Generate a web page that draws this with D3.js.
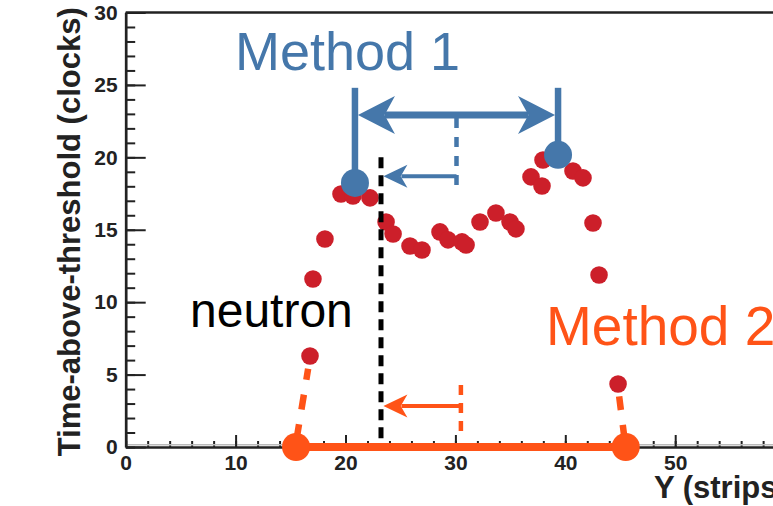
<!DOCTYPE html>
<html lang="en">
<head>
<meta charset="UTF-8">
<title>Time-above-threshold vs Y</title>
<script src="https://cdn.jsdelivr.net/npm/d3@7"></script>
<style>
body { margin: 0; background: #fff; }
svg { display: block; font-family: 'Liberation Sans', Arial, sans-serif; }
.axis text { font-weight: bold; font-size: 21px; fill: #222; }
.axis path, .axis line { stroke: #222; }
</style>
</head>
<body>
<div id="chart"></div>
<script>
const width = 773, height = 506;

// Strip hits: position (strips) and time-above-threshold (clocks)
const stripY = [16.77, 17.04, 18.13, 19.59, 20.68, 22.23, 23.69, 24.33, 25.87, 26.96, 28.6, 29.33, 30.6, 30.97,
                32.24, 33.69, 34.97, 35.51, 36.88, 37.88, 37.97, 40.7, 41.61, 42.52, 43.07, 44.8];
const totValues = [6.28, 11.6, 14.36, 17.47, 17.33, 17.2, 15.54, 14.71, 13.88, 13.6, 14.85, 14.3, 14.16, 13.95,
                   15.54, 16.16, 15.54, 15.06, 18.65, 18.02, 19.82, 19.06, 18.58, 15.47, 11.88, 4.35];

// Axis ticks
const xMajorTicks = [0, 10, 20, 30, 40, 50, 60];
const yMajorTicks = [0, 5, 10, 15, 20, 25, 30];

// Method 1: edges at the TOT maxima
const m1Edges = [20.86, 39.34];
const m1EdgeTot = [18.23, 20.17];
const m1Top = 24.8, m1ArrowTot = 22.93, m1DashBottom = 17.9, m1SmallArrowTot = 18.7;
// Method 2: edges where TOT falls to zero
const m2Edges = [15.5, 45.5];
const m2DashTop = 4.28, m2ArrowTot = 2.83;
const m2Links = [[15.55, 0.55, 16.6, 5.4], [45.4, 0.5, 44.9, 3.5]];
// neutron position
const neutronY = 23.23, neutronTop = 20.0, neutronBottom = 0.3;
const arrowTip = 23.45;

const red = "#cc1f2a", blue = "#4577aa", orange = "#ff5317";

const svg = d3.select("#chart").append("svg")
    .attr("width", width).attr("height", height);

const x = d3.scaleLinear().domain([0, 60]).range([125.7, 785.1]);
const y = d3.scaleLinear().domain([0, 30]).range([447, 12.5]);

// minor ticks
svg.append("g").attr("class", "axis")
    .attr("transform", `translate(0,${y(0)})`)
    .call(d3.axisBottom(x).tickValues(d3.range(0, 62, 2)).tickSize(-6).tickFormat(""))
    .call(g => g.select(".domain").remove())
    .selectAll("line").attr("stroke-width", 2);
svg.append("g").attr("class", "axis")
    .attr("transform", `translate(${x(0)},0)`)
    .call(d3.axisLeft(y).tickValues(d3.range(0, 31, 1)).tickSize(-9.5).tickFormat(""))
    .call(g => g.select(".domain").remove())
    .selectAll("line").attr("stroke-width", 2);

// faint shadow above the x axis
svg.append("line")
    .attr("x1", x(0)).attr("x2", width)
    .attr("y1", y(0) - 2.3).attr("y2", y(0) - 2.3)
    .attr("stroke", "#bbb").attr("stroke-width", 1.5);

// major ticks + labels
const xAxis = svg.append("g").attr("class", "axis")
    .attr("transform", `translate(0,${y(0)})`)
    .call(d3.axisBottom(x).tickValues(xMajorTicks).tickSize(-12).tickSizeOuter(0).tickPadding(8));
xAxis.selectAll("line").attr("stroke-width", 2);
xAxis.select(".domain").attr("stroke-width", 2.7);

const yAxis = svg.append("g").attr("class", "axis")
    .attr("transform", `translate(${x(0)},0)`)
    .call(d3.axisLeft(y).tickValues(yMajorTicks).tickSize(-20).tickSizeOuter(0).tickPadding(8));
yAxis.selectAll("line").attr("stroke-width", 2);
yAxis.select(".domain").attr("stroke-width", 2.7);

// top frame
svg.append("line")
    .attr("x1", x(0)).attr("x2", width)
    .attr("y1", y(30)).attr("y2", y(30))
    .attr("stroke", "#222").attr("stroke-width", 2.7);

// axis titles
svg.append("text")
    .attr("transform", `translate(80,${(y(0) + y(30)) / 2 + 2}) rotate(-90)`)
    .attr("text-anchor", "middle")
    .attr("font-weight", "bold").attr("font-size", 31).attr("fill", "#222")
    .text("Time-above-threshold (clocks)");
svg.append("text")
    .attr("x", 654).attr("y", 498)
    .attr("font-weight", "bold").attr("font-size", 31).attr("fill", "#222")
    .text("Y (strips)");

// data points
svg.append("g").selectAll("circle")
    .data(stripY.map((s, i) => [s, totValues[i]]))
    .join("circle")
    .attr("cx", d => x(d[0])).attr("cy", d => y(d[1]))
    .attr("r", 8.8).attr("fill", red);

// arrow helpers
function arrowHead(g, tx, ty, dir, len, half, color) {
    const p = [[0, 0], [len, -half], [len * 0.72, 0], [len, half]]
        .map(([a, b]) => [tx + dir * a, ty + b]);
    g.append("path").attr("d", "M" + p.join("L") + "Z").attr("fill", color);
}
function dashed(g, x1, y1, x2, y2, color, w, dash) {
    g.append("line")
        .attr("x1", x1).attr("y1", y1).attr("x2", x2).attr("y2", y2)
        .attr("stroke", color).attr("stroke-width", w).attr("stroke-dasharray", dash);
}

const ann = svg.append("g");

// neutron line
dashed(ann, x(neutronY), y(neutronTop), x(neutronY), y(neutronBottom), "#000", 5, "11 7");
ann.append("text").attr("x", 190).attr("y", 327)
    .attr("font-size", 48).attr("fill", "#000").text("neutron");

// Method 1
m1Edges.forEach((e, i) => {
    ann.append("line")
        .attr("x1", x(e)).attr("x2", x(e))
        .attr("y1", y(m1Top)).attr("y2", y(m1EdgeTot[i]))
        .attr("stroke", blue).attr("stroke-width", 6.5);
});
const m1Mid = (m1Edges[0] + m1Edges[1]) / 2;
ann.append("line")
    .attr("x1", x(m1Edges[0]) + 30).attr("x2", x(m1Edges[1]) - 30)
    .attr("y1", y(m1ArrowTot)).attr("y2", y(m1ArrowTot))
    .attr("stroke", blue).attr("stroke-width", 7);
arrowHead(ann, x(m1Edges[0]) + 3, y(m1ArrowTot), 1, 37, 19, blue);
arrowHead(ann, x(m1Edges[1]) - 3, y(m1ArrowTot), -1, 37, 19, blue);
dashed(ann, x(m1Mid), y(m1ArrowTot) + 3, x(m1Mid), y(m1DashBottom), blue, 4.5, "10 9");
ann.append("line")
    .attr("x1", x(m1Mid)).attr("x2", x(arrowTip) + 18)
    .attr("y1", y(m1SmallArrowTot)).attr("y2", y(m1SmallArrowTot))
    .attr("stroke", blue).attr("stroke-width", 4);
arrowHead(ann, x(arrowTip), y(m1SmallArrowTot), 1, 24, 11.5, blue);
ann.selectAll(null).data(m1Edges).join("circle")
    .attr("cx", d => x(d)).attr("cy", (d, i) => y(m1EdgeTot[i]))
    .attr("r", 14).attr("fill", blue);
ann.append("text").attr("x", 235).attr("y", 70)
    .attr("font-size", 54).attr("fill", blue).text("Method 1");

// Method 2
m2Links.forEach(l => dashed(ann, x(l[0]), y(l[1]), x(l[2]), y(l[3]), orange, 6.5, "15 15"));
ann.append("line")
    .attr("x1", x(m2Edges[0])).attr("x2", x(m2Edges[1]))
    .attr("y1", y(0)).attr("y2", y(0))
    .attr("stroke", orange).attr("stroke-width", 8);
ann.selectAll(null).data(m2Edges).join("circle")
    .attr("cx", d => x(d)).attr("cy", y(0))
    .attr("r", 14).attr("fill", orange);
const m2Mid = (m2Edges[0] + m2Edges[1]) / 2;
dashed(ann, x(m2Mid), y(m2DashTop), x(m2Mid), y(0) - 10, orange, 4.5, "10 8");
ann.append("line")
    .attr("x1", x(m2Mid)).attr("x2", x(arrowTip) + 18)
    .attr("y1", y(m2ArrowTot)).attr("y2", y(m2ArrowTot))
    .attr("stroke", orange).attr("stroke-width", 4);
arrowHead(ann, x(arrowTip), y(m2ArrowTot), 1, 24, 11.5, orange);
ann.append("text").attr("x", 546).attr("y", 345)
    .attr("font-size", 55).attr("fill", orange).text("Method 2");
</script>
</body>
</html>
